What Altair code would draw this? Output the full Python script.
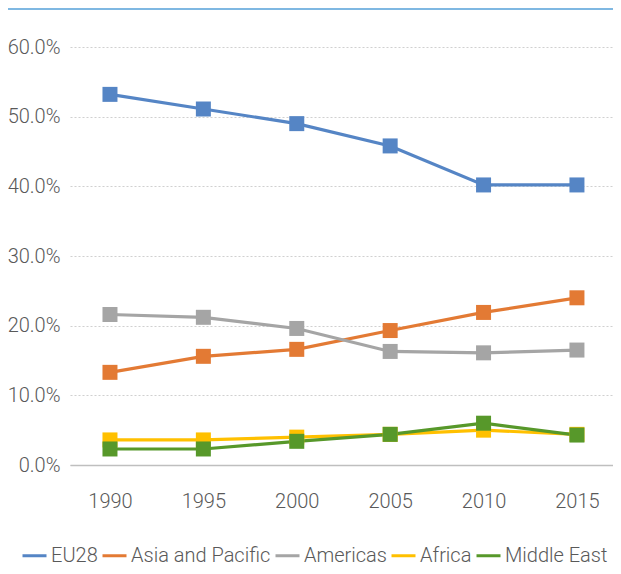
import altair as alt
import pandas as pd

years = [1990, 1995, 2000, 2005, 2010, 2015]
series_names = ["EU28", "Asia and Pacific", "Americas", "Africa", "Middle East"]
eu28 = [53.2, 51.1, 49.0, 45.8, 40.2, 40.2]
asia_pacific = [13.3, 15.6, 16.6, 19.3, 21.9, 24.0]
americas = [21.6, 21.2, 19.6, 16.3, 16.1, 16.5]
africa = [3.6, 3.6, 4.0, 4.4, 5.0, 4.4]
middle_east = [2.3, 2.3, 3.4, 4.4, 6.0, 4.3]
colors = ["#5585C5", "#E37A34", "#A5A5A5", "#FFC000", "#57982A"]
y_ticks = [0, 0.1, 0.2, 0.3, 0.4, 0.5, 0.6]

rows = []
for name, vals in zip(series_names, [eu28, asia_pacific, americas, africa, middle_east]):
    for yr, v in zip(years, vals):
        rows.append({"year": yr, "series": name, "share": v / 100})
df = pd.DataFrame(rows)

FONT = "Roboto"
TXT = "#595959"
FS = 20

cscale = alt.Scale(domain=series_names, range=colors)
xenc = alt.X("year:Q",
             scale=alt.Scale(domain=[1987.86, 2016.93], nice=False, zero=False),
             axis=alt.Axis(values=years, format="d", title=None, grid=False, ticks=False,
                           tickSize=0, labelPadding=26, domainColor="#BFBFBF", domainWidth=1.5,
                           labelFont=FONT, labelFontSize=FS, labelFontWeight=300, labelColor=TXT))
yenc = alt.Y("share:Q",
             scale=alt.Scale(domain=[0, 0.6], nice=False),
             axis=alt.Axis(values=y_ticks, format=".1%", title=None, domain=False, ticks=False,
                           tickSize=0, labelPadding=10, gridColor="#D0D0D0", gridDash=[2, 2],
                           gridWidth=1.2, labelFont=FONT, labelFontSize=FS, labelFontWeight=300,
                           labelColor=TXT))

base = alt.Chart(df)
lines = base.mark_line(strokeWidth=3.2).encode(
    x=xenc, y=yenc,
    color=alt.Color("series:N", scale=cscale, sort=series_names,
                    legend=alt.Legend(title=None, orient="none", legendX=-49, legendY=495,
                                      direction="horizontal", symbolType="stroke",
                                      symbolStrokeWidth=3, symbolSize=576, labelOffset=3,
                                      columnPadding=-2, labelFont=FONT, labelFontSize=FS,
                                      labelFontWeight=300, labelColor=TXT)),
    order=alt.Order("year:Q"),
)
points = base.mark_square(size=225, opacity=1).encode(
    x="year:Q", y="share:Q",
    fill=alt.Fill("series:N", scale=cscale, legend=None),
)
top_rule = alt.Chart(df).mark_rule(color="#7FB8E2", strokeWidth=2).encode(
    x=alt.value(-66), x2=alt.value(543), y=alt.value(-38)
)

chart = alt.layer(top_rule, lines, points).properties(
    width=543, height=418,
    autosize=alt.AutoSizeParams(type="none"),
    padding={"left": 62, "top": 39, "right": 0, "bottom": 101},
).configure_view(stroke=None)

chart.save("out.html", embed_options={"renderer": "svg", "actions": False})
